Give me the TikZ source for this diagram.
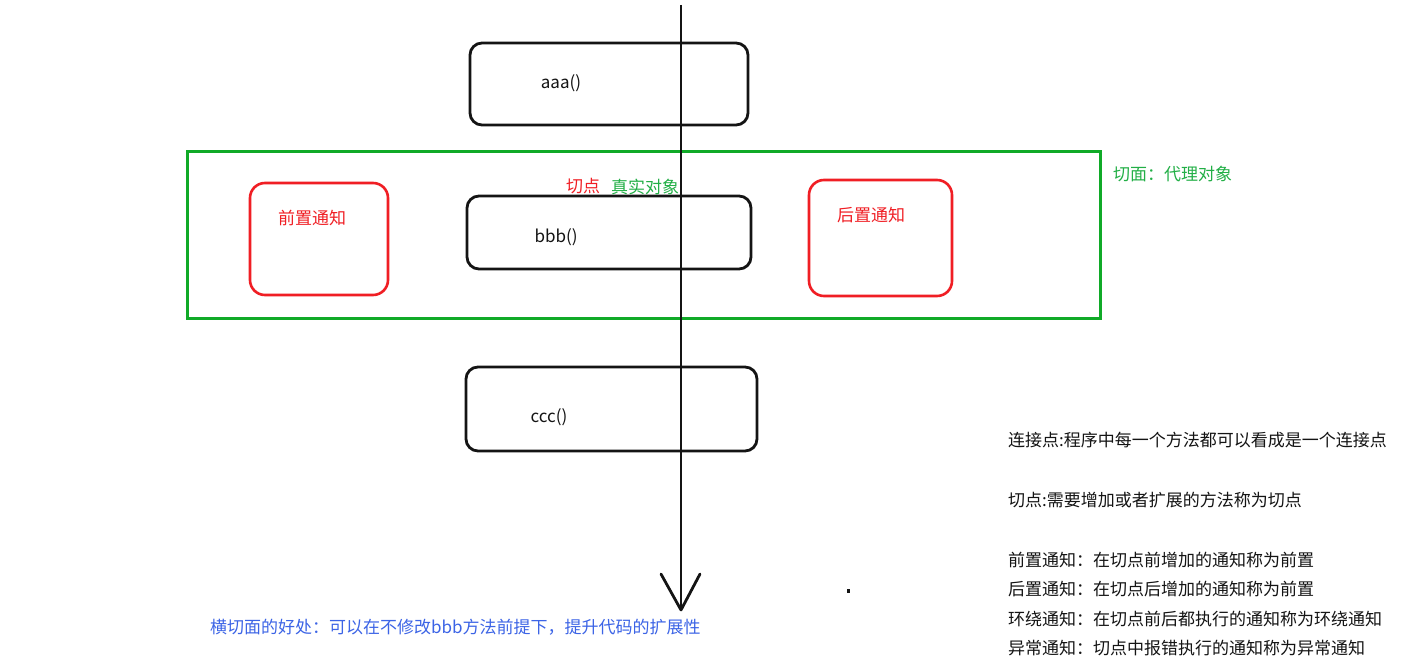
\documentclass[tikz,border=0pt]{standalone}
\usepackage{fontspec}
\setmainfont{Noto Sans CJK SC}
\definecolor{ink}{RGB}{20,20,20}
\definecolor{redc}{RGB}{240,30,36}
\definecolor{greenc}{RGB}{16,170,40}
\definecolor{greent}{RGB}{34,175,70}
\definecolor{bluet}{RGB}{60,100,230}
\tikzset{
  method/.style={draw=ink,line width=2.8pt,rounded corners=12pt,inner sep=0pt},
  advice/.style={draw=redc,line width=2.6pt,rounded corners=15pt,inner sep=0pt},
  aspect/.style={draw=greenc,line width=3pt,inner sep=0pt},
  txt/.style={font=\fontsize{17}{20}\selectfont,inner sep=0pt,text=ink},
  flow/.style={draw=ink,line width=2.8pt}
}
\begin{document}
\begin{tikzpicture}[x=1pt,y=-1pt]
\useasboundingbox[fill=white] (0,0) rectangle (1423,668);
% boxes
\node[aspect,minimum width=913pt,minimum height=166pt] (cut) at (643.5,235) {};
\node[method,minimum width=278pt,minimum height=82pt] (aaa) at (609,84) {};
\node[method,minimum width=284pt,minimum height=73pt] (bbb) at (609,232.5) {};
\node[method,minimum width=291pt,minimum height=84pt] (ccc) at (611.5,409) {};
\node[advice,minimum width=138pt,minimum height=112pt] (before) at (319,239) {};
\node[advice,minimum width=143pt,minimum height=116pt] (after) at (880.5,238) {};
% labels
\node[txt] (la) at (561,83) {aaa()};
\node[txt] (lb) at (556,237) {bbb()};
\node[txt] (lc) at (549,417) {ccc()};
\node[txt,text=redc] (lbefore) at (312,218) {前置通知};
\node[txt,text=redc] (lafter) at (871,215) {后置通知};
\node[txt,text=redc] (lpoint) at (583,186) {切点};
\node[txt,text=greent] (lreal) at (645,187) {真实对象};
\node[txt,text=greent,anchor=west] (lcut) at (1113,174) {切面：代理对象};
% flow arrow
\coordinate (top) at (681,5);
\coordinate (tip) at (681,610);
\draw[flow] (top) -- (tip);
\draw[flow,line cap=round] (tip) -- ++(-20,-36);
\draw[flow,line cap=round] (tip) -- ++(19,-36);
% notes
\node[txt,anchor=west] (n1) at (1008,440) {连接点:程序中每一个方法都可以看成是一个连接点};
\node[txt,anchor=west] (n2) at (1008,500) {切点:需要增加或者扩展的方法称为切点};
\node[txt,anchor=west] (n3) at (1008,560) {前置通知：在切点前增加的通知称为前置};
\node[txt,anchor=west] (n4) at (1008,589) {后置通知：在切点后增加的通知称为前置};
\node[txt,anchor=west] (n5) at (1008,619) {环绕通知：在切点前后都执行的通知称为环绕通知};
\node[txt,anchor=west] (n6) at (1008,648) {异常通知：切点中报错执行的通知称为异常通知};
\node[txt,anchor=west,text=bluet] (benefit) at (210,627) {横切面的好处：可以在不修改bbb方法前提下，提升代码的扩展性};
\fill[ink] (847,589) rectangle (850,593);
\end{tikzpicture}
\end{document}
